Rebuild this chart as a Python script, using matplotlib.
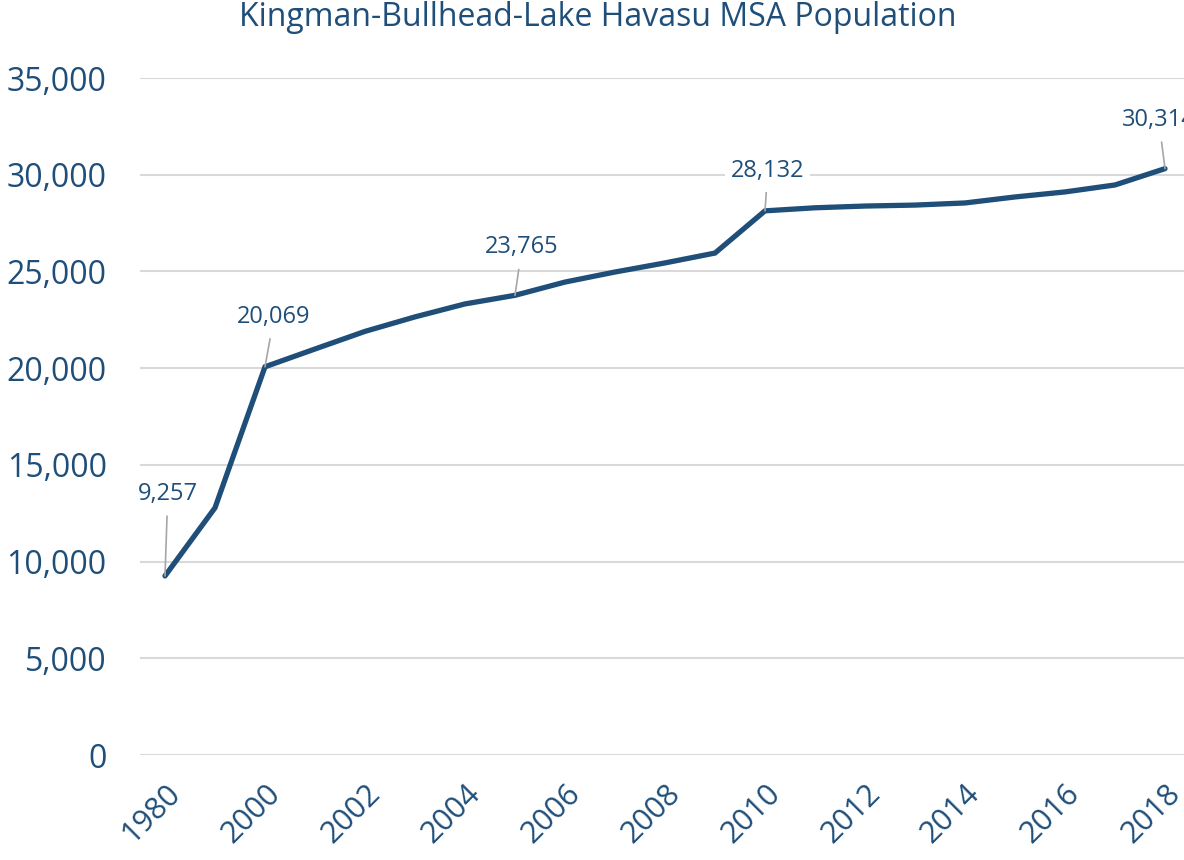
import matplotlib
matplotlib.use("Agg")
from matplotlib import pyplot as plt

plt.rcParams['font.family'] = ['Open Sans', 'DejaVu Sans']

years = ['1980', '1990', '2000', '2001', '2002', '2003', '2004', '2005', '2006', '2007',
         '2008', '2009', '2010', '2011', '2012', '2013', '2014', '2015', '2016', '2017', '2018']
population = [9257, 12780, 20069, 20990, 21900, 22650, 23320, 23765, 24450, 24970,
              25440, 25950, 28132, 28290, 28380, 28430, 28540, 28850, 29110, 29470, 30314]
labelled = ['1980', '2000', '2005', '2010', '2018']
# label centre offsets (points) for the leader-line labels
label_offsets = {'1980': (2, 59), '2000': (6.5, 36), '2005': (5, 34.5), '2010': (2, 29), '2018': (-4.5, 35)}

blue = '#1F4E79'

fig = plt.figure(figsize=(11.84, 8.6), dpi=100)
ax = fig.add_axes([140 / 1184, 105 / 860, 1050 / 1184, 677 / 860])

x = list(range(len(years)))
ax.plot(x, population, color=blue, linewidth=3.8, solid_capstyle='round', solid_joinstyle='miter', zorder=3)

for i, yr in enumerate(years):
    if yr in labelled:
        dx, dy = label_offsets[yr]
        ax.annotate(f"{population[i]:,}", xy=(i, population[i]), xytext=(dx, dy),
                    textcoords='offset points', ha='center', va='center', fontsize=17,
                    color=blue, zorder=4,
                    bbox=dict(boxstyle='square,pad=0.25', fc='white', ec='none'),
                    arrowprops=dict(arrowstyle='-', color='#A6A6A6', lw=1.2, shrinkA=3, shrinkB=0))

ax.set_xlim(-0.5, len(years) - 0.5)
ax.set_ylim(0, 35000)
ax.set_yticks(range(0, 35001, 5000))
ax.set_yticklabels([f"{v:,}" for v in range(0, 35001, 5000)], fontsize=23, color=blue)
ax.set_xticks(x[::2])
ax.set_xticklabels(years[::2], rotation=45, ha='right', rotation_mode='anchor', fontsize=22, color=blue)
ax.tick_params(axis='both', length=0)
ax.tick_params(axis='y', pad=24)
ax.tick_params(axis='x', pad=17)
ax.grid(axis='y', color='#D9D9D9', linewidth=1.5)
ax.set_axisbelow(True)
for s in ax.spines.values():
    s.set_visible(False)

fig.text(598 / 1184, 1 - 18 / 860, 'Kingman-Bullhead-Lake Havasu MSA Population', ha='center', va='center',
         fontsize=23, color=blue)

fig.savefig('out.png', dpi=100)
